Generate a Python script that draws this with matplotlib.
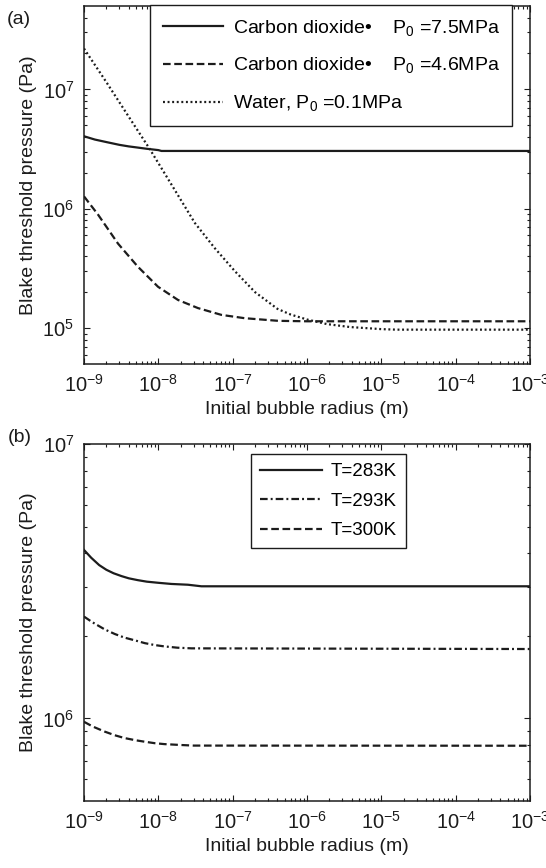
import matplotlib
matplotlib.use("Agg")
import matplotlib.pyplot as plt
from matplotlib.ticker import FixedLocator, NullFormatter, LogFormatterSciNotation

plt.rcParams['font.family'] = ['Liberation Sans', 'DejaVu Sans']
plt.rcParams['mathtext.fontset'] = 'custom'
plt.rcParams['mathtext.rm'] = 'Liberation Sans'
plt.rcParams['mathtext.it'] = 'Liberation Sans:italic'
plt.rcParams['mathtext.bf'] = 'Liberation Sans:bold'
plt.rcParams['lines.scale_dashes'] = False

# ---------------- data panel (a) ----------------
co2_75_r = [1e-9, 1.4e-9, 2e-9, 3e-9, 4e-9, 5e-9, 7e-9, 1e-8, 1.1e-8, 1e-3]
co2_75_p = [4.05e6, 3.8e6, 3.62e6, 3.43e6, 3.33e6, 3.27e6, 3.18e6, 3.1e6, 3.05e6, 3.05e6]

co2_46_r = [1e-9, 1.55e-9, 2.87e-9, 5.3e-9, 9.9e-9, 1.84e-8, 3.42e-8, 7.05e-8,
            1.45e-7, 4.1e-7, 1e-6, 1e-3]
co2_46_p = [1.27e6, 8.9e5, 5.1e5, 3.27e5, 2.22e5, 1.72e5, 1.47e5, 1.29e5,
            1.21e5, 1.15e5, 1.14e5, 1.14e5]

water_r = [1e-9, 2e-9, 4e-9, 7.7e-9, 1.66e-8, 3.1e-8, 5.7e-8, 1.07e-7, 2e-7,
           4e-7, 6e-7, 1e-6, 1.85e-6, 3.8e-6, 1e-5, 1.6e-5, 1e-3]
water_p = [2.2e7, 1.15e7, 5.9e6, 3.15e6, 1.44e6, 7.6e5, 4.7e5, 3.0e5, 2.0e5,
           1.45e5, 1.3e5, 1.18e5, 1.08e5, 1.02e5, 9.8e4, 9.7e4, 9.7e4]

# ---------------- data panel (b) ----------------
t283_r = [1e-9, 1.25e-9, 1.6e-9, 2e-9, 2.5e-9, 3.2e-9, 4e-9, 5.3e-9, 7e-9,
          1e-8, 1.5e-8, 2.5e-8, 3.8e-8, 1e-3]
t283_p = [4.11e6, 3.85e6, 3.62e6, 3.48e6, 3.38e6, 3.30e6, 3.24e6, 3.19e6, 3.15e6,
          3.12e6, 3.09e6, 3.07e6, 3.03e6, 3.03e6]

t293_r = [1e-9, 1.3e-9, 1.9e-9, 2.6e-9, 3.5e-9, 5e-9, 6.6e-9, 9e-9, 1.2e-8,
          1.8e-8, 2.8e-8, 1e-3]
t293_p = [2.35e6, 2.24e6, 2.11e6, 2.03e6, 1.97e6, 1.92e6, 1.88e6, 1.85e6, 1.83e6,
          1.81e6, 1.80e6, 1.79e6]

t300_r = [1e-9, 1.3e-9, 1.9e-9, 2.6e-9, 3.5e-9, 5e-9, 6.6e-9, 9e-9, 1.2e-8,
          2e-8, 3e-8, 1e-3]
t300_p = [9.72e5, 9.35e5, 8.95e5, 8.68e5, 8.48e5, 8.32e5, 8.22e5, 8.12e5, 8.06e5,
          8.0e5, 7.96e5, 7.95e5]

labels_a = ['Carbon dioxide\u2022    P$_0$ =7.5MPa',
            'Carbon dioxide\u2022    P$_0$ =4.6MPa',
            'Water, P$_0$ =0.1MPa']
labels_b = ['T=283K', 'T=293K', 'T=300K']

x_major = [1e-9, 1e-8, 1e-7, 1e-6, 1e-5, 1e-4, 1e-3]
ya_major = [1e5, 1e6, 1e7]
yb_major = [1e6, 1e7]

xlabel = 'Initial bubble radius (m)'
ylabel = 'Blake threshold pressure (Pa)'

W, H = 546, 868
fig = plt.figure(figsize=(W / 100, H / 100), dpi=100)

def px_axes(l, t, r, b):
    return fig.add_axes([l / W, 1 - b / H, (r - l) / W, (b - t) / H])

axa = px_axes(84, 6, 530, 364)
axb = px_axes(84, 444, 530, 801)

col = '#1c1c1c'
lw = 1.6
DASH = (0, (5.5, 2.6))
DOT = (0, (1.4, 1.9))
DASHDOT = (0, (5.5, 2.2, 1.4, 2.2))

axa.plot(co2_75_r, co2_75_p, color=col, lw=lw, linestyle='-', label=labels_a[0])
axa.plot(co2_46_r, co2_46_p, color=col, lw=lw, linestyle=DASH, label=labels_a[1])
axa.plot(water_r, water_p, color=col, lw=lw, linestyle=DOT, label=labels_a[2])

axb.plot(t283_r, t283_p, color=col, lw=lw, linestyle='-', label=labels_b[0])
axb.plot(t293_r, t293_p, color=col, lw=lw, linestyle=DASHDOT, label=labels_b[1])
axb.plot(t300_r, t300_p, color=col, lw=lw, linestyle=DASH, label=labels_b[2])

def minors(lo_exp, hi_exp, lo, hi):
    out = []
    for e in range(lo_exp, hi_exp + 1):
        for m in range(2, 10):
            v = m * 10.0 ** e
            if lo < v < hi:
                out.append(v)
    return out

for ax, ymaj, (ylo, yhi) in ((axa, ya_major, (5e4, 5e7)), (axb, yb_major, (5e5, 1e7))):
    ax.set_xscale('log')
    ax.set_yscale('log')
    ax.set_xlim(1e-9, 1e-3)
    ax.set_ylim(ylo, yhi)
    ax.xaxis.set_major_locator(FixedLocator(x_major))
    ax.xaxis.set_minor_locator(FixedLocator(minors(-9, -4, 1e-9, 1e-3)))
    ax.yaxis.set_major_locator(FixedLocator(ymaj))
    ax.yaxis.set_minor_locator(FixedLocator(minors(4, 7, ylo, yhi)))
    ax.xaxis.set_major_formatter(LogFormatterSciNotation())
    ax.yaxis.set_major_formatter(LogFormatterSciNotation())
    ax.xaxis.set_minor_formatter(NullFormatter())
    ax.yaxis.set_minor_formatter(NullFormatter())
    ax.tick_params(which='both', direction='in', top=True, right=True,
                   labelsize=14.5, colors='#1c1c1c', width=0.8)
    ax.tick_params(which='major', length=4.5, pad=7)
    ax.tick_params(which='minor', length=2.3)
    for s in ax.spines.values():
        s.set_linewidth(1.1)
        s.set_color('#1c1c1c')
    ax.set_xlabel(xlabel, fontsize=14, labelpad=4, color='#1c1c1c')
    ax.set_ylabel(ylabel, fontsize=14, labelpad=4, color='#1c1c1c')

lega = axa.legend(loc='upper left', bbox_to_anchor=(0.148, 1.003), fontsize=14,
                  frameon=True, fancybox=False, edgecolor='#1c1c1c', framealpha=1,
                  handlelength=3.1, handletextpad=0.5, labelspacing=0.92,
                  borderpad=0.65, borderaxespad=0)
lega.get_frame().set_linewidth(1.0)

legb = axb.legend(loc='upper left', bbox_to_anchor=(0.374, 0.972), fontsize=13.5,
                  frameon=True, fancybox=False, edgecolor='#1c1c1c', framealpha=1,
                  handlelength=3.3, handletextpad=0.45, labelspacing=0.65,
                  borderpad=0.5, borderaxespad=0)
legb.get_frame().set_linewidth(1.0)

fig.text(7 / W, 1 - 20 / H, '(a)', fontsize=14, va='center', ha='left', color='#1c1c1c')
fig.text(8 / W, 1 - 437 / H, '(b)', fontsize=14, va='center', ha='left', color='#1c1c1c')

fig.savefig('out.png', dpi=100)
